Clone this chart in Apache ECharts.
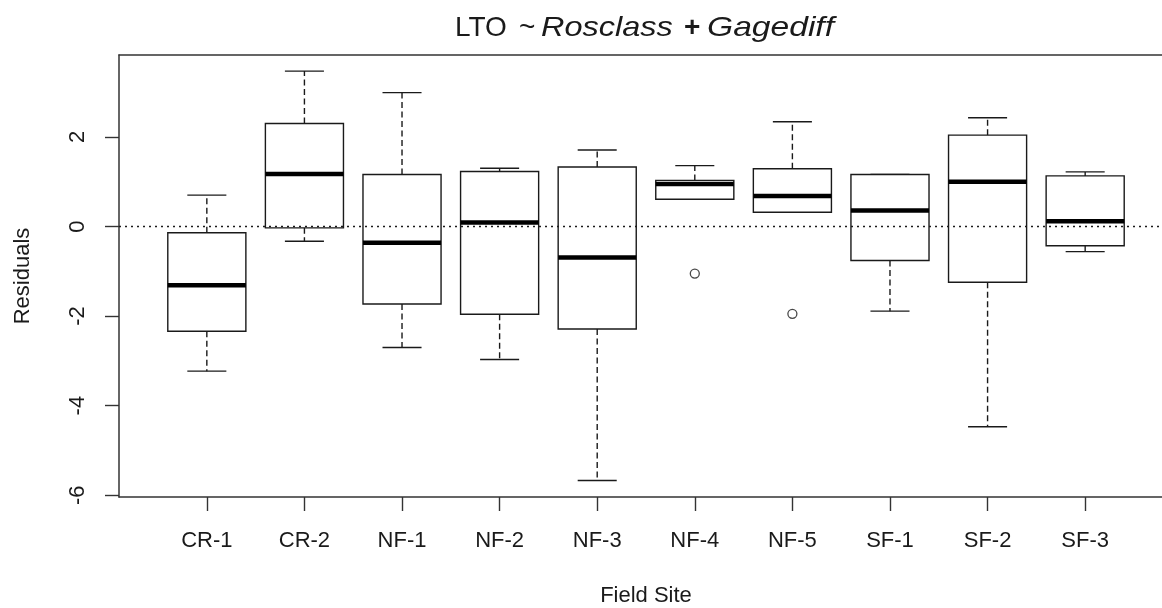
<!DOCTYPE html>
<html>
<head>
<meta charset="utf-8">
<script src="https://cdn.jsdelivr.net/npm/echarts@6/dist/echarts.min.js"></script>
<style>
  html, body { margin: 0; padding: 0; background: #fff; }
  #chart { width: 1162px; height: 608px; }
</style>
</head>
<body>
<div id="chart"></div>
<script>
// Residuals of LTO ~ Rosclass + Gagediff, grouped by field site
const sites = ['CR-1', 'CR-2', 'NF-1', 'NF-2', 'NF-3', 'NF-4', 'NF-5', 'SF-1', 'SF-2', 'SF-3'];
const lowerWhisker = [-3.23, -0.33, -2.70, -2.97, -5.67, 0.61, 0.32, -1.89, -4.47, -0.56];
const lowerHinge   = [-2.34, -0.03, -1.73, -1.96, -2.29, 0.61, 0.32, -0.76, -1.245, -0.43];
const medians      = [-1.31, 1.17, -0.36, 0.09, -0.69, 0.95, 0.68, 0.355, 1.00, 0.12];
const upperHinge   = [-0.14, 2.30, 1.16, 1.23, 1.33, 1.03, 1.29, 1.16, 2.04, 1.13];
const upperWhisker = [0.70, 3.47, 2.99, 1.30, 1.71, 1.36, 2.34, 1.16, 2.43, 1.22];
const outlierSites  = ['NF-4', 'NF-5'];
const outlierValues = [-1.05, -1.95];
const yTicks = [-6, -4, -2, 0, 2];

const INK = '#1a1a1a';
const FRAME = '#333';
const FONT = '"Liberation Sans", Arial, sans-serif';
const BOX_WIDTH = 0.8;      // in category units
const STAPLE_WIDTH = 0.4;
const X_MIN = 0.1, X_MAX = 10.9;
const Y_MIN = -6.04, Y_MAX = 3.83;

const positions = sites.map((s, i) => i + 1);
const boxData = sites.map((s, i) => [
  i + 1, lowerWhisker[i], lowerHinge[i], medians[i], upperHinge[i], upperWhisker[i]
]);
const outlierData = outlierSites.map((s, i) => [sites.indexOf(s) + 1, outlierValues[i]]);

function renderBox(params, api) {
  const x = api.value(0);
  const lo = api.value(1), q1 = api.value(2), med = api.value(3), q3 = api.value(4), hi = api.value(5);
  const cx = api.coord([x, 0])[0];
  const half = api.size([BOX_WIDTH, 0])[0] / 2;
  const stapleHalf = api.size([STAPLE_WIDTH, 0])[0] / 2;
  const y = v => api.coord([x, v])[1];
  const solid = { stroke: INK, lineWidth: 1.4, fill: null };
  const dashed = { stroke: INK, lineWidth: 1.4, lineDash: [6, 3.5] };
  const children = [];
  if (hi > q3) {
    children.push({ type: 'line', shape: { x1: cx, y1: y(q3), x2: cx, y2: y(hi) }, style: dashed });
  }
  if (lo < q1) {
    children.push({ type: 'line', shape: { x1: cx, y1: y(q1), x2: cx, y2: y(lo) }, style: dashed });
  }
  children.push(
    { type: 'line', shape: { x1: cx - stapleHalf, y1: y(hi), x2: cx + stapleHalf, y2: y(hi) }, style: solid },
    { type: 'line', shape: { x1: cx - stapleHalf, y1: y(lo), x2: cx + stapleHalf, y2: y(lo) }, style: solid },
    { type: 'rect', shape: { x: cx - half, y: y(q3), width: half * 2, height: y(q1) - y(q3) },
      style: { stroke: INK, lineWidth: 1.4, fill: '#fff' } },
    { type: 'line', shape: { x1: cx - half, y1: y(med), x2: cx + half, y2: y(med) },
      style: { stroke: '#000', lineWidth: 4.5 } }
  );
  return { type: 'group', children };
}

// Title pieces: plain model name, italic terms
const titleStyle = { fontFamily: FONT, fontSize: 28, fill: INK, verticalAlign: 'middle' };
const italicStyle = Object.assign({}, titleStyle, { fontStyle: 'italic' });

const frameLine = { show: true, onZero: false, lineStyle: { color: FRAME, width: 1.5 } };

const chart = echarts.init(document.getElementById('chart'), null, { renderer: 'canvas' });
chart.setOption({
  animation: false,
  backgroundColor: '#fff',
  textStyle: { fontFamily: FONT, color: INK },
  grid: {
    left: 119, top: 55, width: 1054, height: 442,
    outerBoundsMode: 'none',
    containLabel: false,
    show: false
  },
  graphic: [{
    type: 'group',
    x: 455, y: 28,
    children: [
      { type: 'text', x: 0, style: Object.assign({ text: 'LTO' }, titleStyle) },
      { type: 'text', x: 64, style: Object.assign({ text: '~' }, titleStyle) },
      { type: 'text', x: 86, scaleX: 1.16, style: Object.assign({ text: 'Rosclass' }, italicStyle) },
      { type: 'text', x: 229, style: Object.assign({ text: '+', fontWeight: 'bold' }, titleStyle) },
      { type: 'text', x: 252, scaleX: 1.2, style: Object.assign({ text: 'Gagediff' }, italicStyle) }
    ]
  }],
  xAxis: [
    {
      type: 'value',
      position: 'bottom',
      min: X_MIN, max: X_MAX,
      name: 'Field Site',
      nameLocation: 'middle',
      nameGap: 88,
      nameTextStyle: { fontFamily: FONT, fontSize: 22, color: INK },
      axisLine: frameLine,
      splitLine: { show: false },
      axisTick: { show: true, customValues: positions, length: 14, inside: false,
        lineStyle: { color: FRAME, width: 1.4 } },
      axisLabel: {
        customValues: positions,
        margin: 33,
        fontFamily: FONT, fontSize: 22, color: INK,
        formatter: v => sites[Math.round(v) - 1] || ''
      }
    },
    {
      // top edge of the plot frame
      type: 'value',
      position: 'top',
      min: X_MIN, max: X_MAX,
      axisLine: frameLine,
      axisTick: { show: false },
      axisLabel: { show: false },
      splitLine: { show: false }
    }
  ],
  yAxis: {
    type: 'value',
    position: 'left',
    min: Y_MIN, max: Y_MAX,
    name: 'Residuals',
    nameLocation: 'middle',
    nameRotate: 90,
    nameGap: 85,
    nameTextStyle: { fontFamily: FONT, fontSize: 22, color: INK },
    axisLine: frameLine,
    splitLine: { show: false },
    axisTick: { show: true, customValues: yTicks, length: 14, inside: false,
      lineStyle: { color: FRAME, width: 1.4 } },
    axisLabel: {
      customValues: yTicks,
      rotate: 90,
      margin: 30,
      fontFamily: FONT, fontSize: 22, color: INK
    }
  },
  series: [
    {
      type: 'line',
      name: 'zero',
      data: [[X_MIN, 0], [X_MAX, 0]],
      showSymbol: false,
      symbol: 'none',
      silent: true,
      lineStyle: { color: INK, width: 1.5, type: [2, 4] },
      z: 5
    },
    {
      type: 'custom',
      name: 'Residuals',
      renderItem: renderBox,
      encode: { x: 0, y: [1, 2, 3, 4, 5] },
      data: boxData,
      z: 3
    },
    {
      type: 'scatter',
      name: 'Outliers',
      data: outlierData,
      symbol: 'circle',
      symbolSize: 9,
      itemStyle: { color: '#fff', borderColor: INK, borderWidth: 1.3 },
      z: 4
    }
  ]
});
</script>
</body>
</html>
